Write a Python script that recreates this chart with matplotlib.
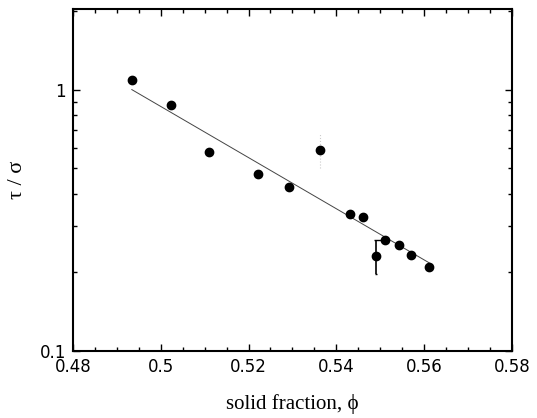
import matplotlib
matplotlib.use('Agg')
import matplotlib.pyplot as plt
from matplotlib.ticker import MultipleLocator, LogLocator, NullFormatter, FixedLocator

# data
phi = [0.4934, 0.5023, 0.5111, 0.5221, 0.5292, 0.5363, 0.5431, 0.5462, 0.5490, 0.5511, 0.5542, 0.5571, 0.5612]
tau = [1.085, 0.871, 0.579, 0.477, 0.423, 0.586, 0.333, 0.327, 0.232, 0.265, 0.254, 0.234, 0.210]

# error bars (only two points have them)
err_phi = [0.5363, 0.5490]
err_lo = [0.501, 0.198]
err_hi = [0.679, 0.267]

# straight line fit (log scale)
fit_phi = [0.4934, 0.5615]
fit_tau = [1.0, 0.216]

xticks = [0.48, 0.50, 0.52, 0.54, 0.56, 0.58]
xticklabels = ['0.48', '0.5', '0.52', '0.54', '0.56', '0.58']
yticks = [0.1, 1]
yticklabels = ['0.1', '1']

fig = plt.figure(figsize=(5.37, 4.18), dpi=100)
ax = fig.add_axes([0.136, 0.160, 0.817, 0.818])

ax.plot(fit_phi, fit_tau, '-', color='#444444', lw=0.7, zorder=2)

# faint error bar on the 0.536 point, solid one on 0.549
ax.vlines(err_phi[0], err_lo[0], err_hi[0], color='#cccccc', lw=0.8, linestyles=':', zorder=1)
ax.vlines(err_phi[1], err_lo[1], err_hi[1], color='black', lw=1.2, zorder=1)
ax.hlines(err_hi[1], err_phi[1] - 0.0005, err_phi[1] + 0.0012, color='black', lw=1.0)
ax.hlines(err_lo[1], err_phi[1] - 0.0002, err_phi[1] + 0.0002, color='black', lw=1.0)

ax.plot(phi, tau, 'o', color='black', ms=6, zorder=3)

ax.set_yscale('log')
ax.set_xlim(0.48, 0.58)
ax.set_ylim(0.1, 2.03)

ax.xaxis.set_major_locator(FixedLocator(xticks))
ax.set_xticklabels(xticklabels)
ax.xaxis.set_minor_locator(MultipleLocator(0.005))
ax.yaxis.set_major_locator(FixedLocator(yticks))
ax.set_yticklabels(yticklabels)
ax.yaxis.set_minor_locator(LogLocator(base=10, subs=[2, 3, 4, 5, 6, 7, 8, 9]))
ax.yaxis.set_minor_formatter(NullFormatter())

ax.tick_params(which='both', direction='in', top=True, right=True, width=1.0)
ax.tick_params(which='major', length=5, labelsize=12, pad=5)
ax.tick_params(which='minor', length=3)

for s in ax.spines.values():
    s.set_linewidth(1.5)

ax.set_xlabel('solid fraction, \u03d5', family='Liberation Serif', fontsize=15, labelpad=13)
ax.set_ylabel('\u03c4 / \u03c3', family='Liberation Serif', fontsize=16, labelpad=9)

fig.savefig('out.png', dpi=100)
